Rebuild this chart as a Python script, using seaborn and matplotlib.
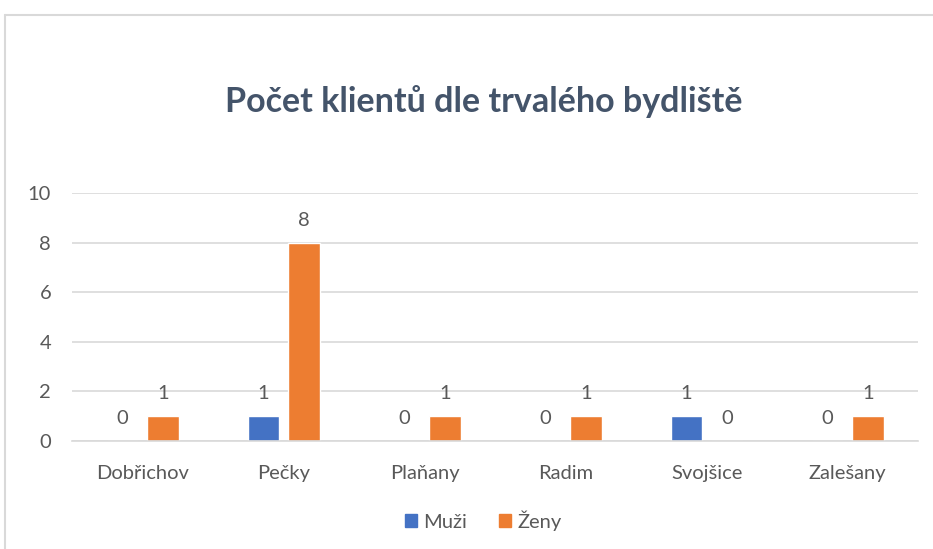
import pandas as pd
import matplotlib
matplotlib.use('Agg')
import matplotlib.pyplot as plt
import seaborn as sns
from matplotlib.lines import Line2D
from matplotlib.patches import Patch

#Data
obce = ['Dobřichov', 'Pečky', 'Plaňany', 'Radim', 'Svojšice', 'Zalešany']
muzi = [0, 1, 0, 0, 1, 0]
zeny = [1, 8, 1, 1, 0, 1]
serie = ['Muži', 'Ženy']
barvy = ['#4472C4', '#ED7D31']

df = pd.DataFrame({'Obec': obce * 2,
                   'Pohlaví': ['Muži'] * len(obce) + ['Ženy'] * len(obce),
                   'Počet': muzi + zeny})

sns.set_style('white')
plt.rcParams['font.family'] = ['Lato', 'DejaVu Sans']

fig = plt.figure(figsize=(9.33, 5.49), dpi=100)
ax = fig.add_axes([0.0772, 0.1967, 0.9068, 0.4517])

sns.barplot(data=df, x='Obec', y='Počet', hue='Pohlaví', palette=barvy,
            width=0.58, gap=0.24, ax=ax, legend=False, saturation=1)

for cont in ax.containers:
    ax.bar_label(cont, padding=10, color='#595959', fontsize=14.5)

ax.set_ylim(0, 10)
ax.set_yticks(range(0, 11, 2))
ax.set_xlim(-0.5, len(obce) - 0.5)
ax.yaxis.grid(True, color='#D9D9D9', linewidth=1.2)
ax.set_axisbelow(True)
for s in ['top', 'right', 'left']:
    ax.spines[s].set_visible(False)
ax.spines['bottom'].set_color('#D9D9D9')
ax.spines['bottom'].set_linewidth(1.2)
ax.tick_params(axis='x', length=0, pad=17, labelsize=14.5, labelcolor='#595959')
ax.tick_params(axis='y', length=0, pad=15, labelsize=14.5, labelcolor='#595959')
ax.set_xlabel('')
ax.set_ylabel('')

#Title
fig.text(0.518, 0.815, 'Počet klientů dle trvalého bydliště', ha='center', va='center',
         fontsize=24.5, fontweight='bold', color='#44546A')

#Legend
handles = [Patch(facecolor=c, edgecolor=c) for c in barvy]
fig.legend(handles, serie, loc='center', bbox_to_anchor=(0.518, 0.052), ncol=2, frameon=False,
           fontsize=14.5, labelcolor='#595959', handlelength=0.6, handleheight=0.6,
           handletextpad=0.3, columnspacing=1.6)

#Chart border
fig.add_artist(Line2D([5 / 933, 5 / 933], [0, 1 - 15 / 549], color='#D9D9D9', linewidth=1.5))
fig.add_artist(Line2D([5 / 933, 1], [1 - 15 / 549, 1 - 15 / 549], color='#D9D9D9', linewidth=1.5))

fig.savefig('out.png', dpi=100, facecolor='white')
